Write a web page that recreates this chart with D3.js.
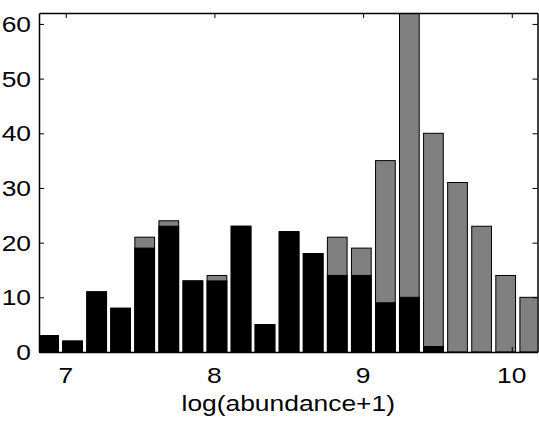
<!DOCTYPE html>
<html>
<head>
<meta charset="utf-8">
<script src="https://cdn.jsdelivr.net/npm/d3@7"></script>
<style>
  body { margin: 0; background: #fff; }
  text { font-family: Arial, "Liberation Sans", Helvetica, sans-serif; }
</style>
</head>
<body>
<script>
// bin centres of log(abundance+1)
var binCenters = [6.884, 7.046, 7.208, 7.369, 7.531, 7.693, 7.855, 8.017, 8.179, 8.340, 8.502,
                  8.664, 8.826, 8.988, 9.150, 9.311, 9.473, 9.635, 9.797, 9.959, 10.121];
// gray bars (all) and black bars (subset)
var allCounts   = [3, 2, 11, 8, 21, 24, 13, 14, 23, 5, 22, 18, 21, 19, 35, 63, 40, 31, 23, 14, 10];
var blackCounts = [3, 2, 11, 8, 19, 23, 13, 13, 23, 5, 22, 18, 14, 14, 9, 10, 1, 0, 0, 0, 0];
var xTicks = [7, 8, 9, 10];
var yTicks = [0, 10, 20, 30, 40, 50, 60];

var W = 539, H = 423;
var pLeft = 39, pRight = 537.5, pTop = 13, pBottom = 352;
var binWidth = 0.1618;

var svg = d3.select("body").append("svg")
  .attr("width", W)
  .attr("height", H);

var x = d3.scaleLinear().domain([6.82, 10.173]).range([pLeft, pRight]);
var y = d3.scaleLinear().domain([0, 62]).range([pBottom, pTop]);

svg.append("clipPath").attr("id", "plotclip")
  .append("rect")
  .attr("x", pLeft).attr("y", pTop)
  .attr("width", pRight - pLeft).attr("height", pBottom - pTop);

var plot = svg.append("g").attr("clip-path", "url(#plotclip)");

var bw = x(binWidth * 0.82) - x(0);

function bars(cls, counts, fill) {
  var data = counts.map(function (c, i) { return { c: c, x: binCenters[i] }; })
    .filter(function (d) { return d.c > 0; });
  plot.selectAll("." + cls)
    .data(data)
    .enter().append("rect")
    .attr("class", cls)
    .attr("x", function (d) { return x(d.x) - bw / 2; })
    .attr("y", function (d) { return y(d.c); })
    .attr("width", bw)
    .attr("height", function (d) { return y(0) - y(d.c); })
    .style("fill", fill)
    .style("stroke", "#000")
    .style("stroke-width", 1);
}

//gray bars, then black bars on top
bars("gray", allCounts, "#808080");
bars("black", blackCounts, "#000");

// axes, matlab style: box with inward ticks
var tl = 5;
svg.append("g").attr("transform", "translate(0," + pBottom + ")")
  .call(d3.axisBottom(x).tickValues(xTicks).tickSizeInner(-tl).tickSizeOuter(0).tickFormat(""));
svg.append("g").attr("transform", "translate(0," + pTop + ")")
  .call(d3.axisTop(x).tickValues(xTicks).tickSizeInner(-tl).tickSizeOuter(0).tickFormat(""));
svg.append("g").attr("transform", "translate(" + pLeft + ",0)")
  .call(d3.axisLeft(y).tickValues(yTicks).tickSizeInner(-tl).tickSizeOuter(0).tickFormat(""));
svg.append("g").attr("transform", "translate(" + pRight + ",0)")
  .call(d3.axisRight(y).tickValues(yTicks).tickSizeInner(-tl).tickSizeOuter(0).tickFormat(""));

svg.selectAll(".domain").attr("stroke", "#000").attr("stroke-width", 1.5);
svg.selectAll(".tick line").attr("stroke", "#000");

var fs = 22, sx = 1.2;

//y tick labels
svg.selectAll(".ylab")
  .data(yTicks)
  .enter().append("text")
  .attr("class", "ylab")
  .attr("transform", function (d) { return "translate(31," + y(d) + ") scale(" + sx + ",1)"; })
  .attr("text-anchor", "end")
  .attr("dy", "0.36em")
  .style("font-size", fs + "px")
  .text(function (d) { return d; });

//x tick labels
svg.selectAll(".xlab")
  .data(xTicks)
  .enter().append("text")
  .attr("class", "xlab")
  .attr("transform", function (d) { return "translate(" + x(d) + ",383) scale(" + sx + ",1)"; })
  .attr("text-anchor", "middle")
  .style("font-size", fs + "px")
  .text(function (d) { return d; });

svg.append("text")
  .attr("transform", "translate(" + ((pLeft + pRight) / 2) + ",411) scale(" + sx + ",1)")
  .attr("text-anchor", "middle")
  .style("font-size", fs + "px")
  .text("log(abundance+1)");
</script>
</body>
</html>
